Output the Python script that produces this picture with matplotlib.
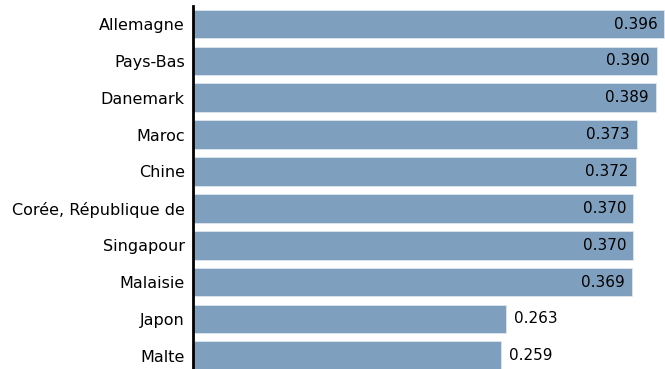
import matplotlib.pyplot as plt

countries = ["Allemagne", "Pays-Bas", "Danemark", "Maroc", "Chine",
             "Corée, République de", "Singapour", "Malaisie", "Japon", "Malte"]
values = [0.396, 0.390, 0.389, 0.373, 0.372, 0.370, 0.370, 0.369, 0.263, 0.259]

fig = plt.figure(figsize=(6.65, 3.69), dpi=100)
ax = fig.add_axes([193 / 665, 0, 1 - 193 / 665, 1 - 6 / 369])

ypos = range(len(countries))
ax.barh(ypos, values, height=0.78, color="#7f9fbf", edgecolor="#dfe6ee", linewidth=0.6)

ax.set_xlim(0, 0.3965)
ax.set_ylim(9.36, -0.49)
ax.set_yticks(list(ypos))
ax.set_yticklabels(countries, fontsize=11.5)
ax.tick_params(axis="y", length=0, pad=6)
ax.set_xticks([])

for s in ["top", "right", "bottom"]:
    ax.spines[s].set_visible(False)
ax.spines["left"].set_linewidth(2)
ax.spines["left"].set_color("black")

for y, v in zip(ypos, values):
    if v > 0.3:
        ax.text(v - 0.006, y, f"{v:.3f}", ha="right", va="center", fontsize=11, color="black")
    else:
        ax.text(v + 0.0065, y, f"{v:.3f}", ha="left", va="center", fontsize=11, color="black")

fig.savefig("out.png", dpi=100)
